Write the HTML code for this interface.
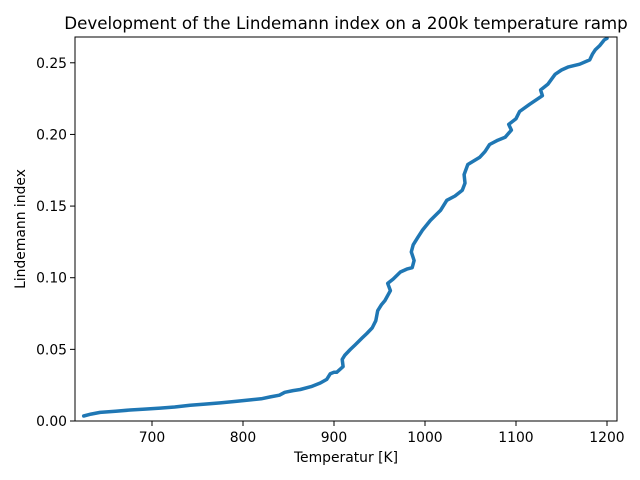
<!DOCTYPE html>
<html><head><meta charset="utf-8"><style>
body{margin:0;background:#fff;}
svg{display:block;font-family:"DejaVu Sans","Liberation Sans",sans-serif;}
</style></head><body>
<svg id="chart" width="640" height="480"></svg>
<script>
const temps=[625,633,643,660,676,692,709,725,742,758,775,792,808,820,830,840,846,855,863,875,885,892,896,900,903,910,909,912,918,923,931,936,942,946,948,952,956,962,959,965,973,980,986,988,985,987,992,997,1006,1017,1024,1033,1041,1044,1043,1047,1060,1066,1071,1080,1088,1095,1092,1100,1104,1115,1129,1127,1135,1143,1150,1157,1170,1181,1184,1187,1192,1197,1200];
const lindemann=[0.0035,0.0048,0.006,0.0068,0.0077,0.0083,0.009,0.0098,0.011,0.0118,0.0126,0.0137,0.0147,0.0155,0.0168,0.018,0.020,0.0212,0.022,0.024,0.0265,0.029,0.033,0.034,0.034,0.038,0.043,0.046,0.050,0.053,0.058,0.061,0.065,0.070,0.077,0.081,0.084,0.091,0.096,0.099,0.104,0.106,0.107,0.112,0.118,0.123,0.128,0.133,0.140,0.147,0.154,0.157,0.161,0.166,0.172,0.179,0.184,0.188,0.193,0.196,0.198,0.203,0.207,0.211,0.216,0.221,0.227,0.231,0.235,0.242,0.245,0.247,0.249,0.252,0.256,0.259,0.262,0.266,0.267];
const xTicks=[700,800,900,1000,1100,1200];
const yTicks=[0,0.05,0.10,0.15,0.20,0.25];
const yTickLabels=["0.00","0.05","0.10","0.15","0.20","0.25"];

const L=75,R=617,T=37,B=421;
const xMin=615.4,xMax=1211,yMin=0,yMax=0.268;
const xs=v=>L+(v-xMin)/(xMax-xMin)*(R-L);
const ys=v=>B-(v-yMin)/(yMax-yMin)*(B-T);
const svg=document.getElementById('chart');
const NS='http://www.w3.org/2000/svg';
function mk(tag,attrs,parent){const e=document.createElementNS(NS,tag);for(const k in attrs)e.setAttribute(k,attrs[k]);(parent||svg).appendChild(e);return e;}

const title=mk('text',{x:346,y:29,'text-anchor':'middle','font-size':16.7,fill:'#000'});
title.textContent='Development of the Lindemann index on a 200k temperature ramp';



let d='';
temps.forEach((t,i)=>{d+=(i?'L':'M')+xs(t).toFixed(1)+','+ys(lindemann[i]).toFixed(1);});
const line=mk('path',{d:d,fill:'none',stroke:'#1f77b4','stroke-width':3.5,'stroke-linejoin':'round','stroke-linecap':'round'});



const frame=mk('rect',{x:L,y:T,width:R-L,height:B-T,fill:'none',stroke:'#000','stroke-width':1});



xTicks.forEach(v=>{
  const x=xs(v);
  const tk=mk('line',{x1:x,y1:B,x2:x,y2:B+5,stroke:'#000'});
  
  
  const lb=mk('text',{x:x,y:B+21,'text-anchor':'middle','font-size':13.9,fill:'#000'});
  lb.textContent=v;
  
  
});
yTicks.forEach((v,i)=>{
  const y=ys(v);
  const tk=mk('line',{x1:L-5,y1:y,x2:L,y2:y,stroke:'#000'});
  
  
  const lb=mk('text',{x:L-8,y:y+5,'text-anchor':'end','font-size':13.9,fill:'#000'});
  lb.textContent=yTickLabels[i];
  
  
});
const xt=mk('text',{x:346,y:462,'text-anchor':'middle','font-size':13.9,fill:'#000'});
xt.textContent='Temperatur [K]';


const yt=mk('text',{x:25,y:229,'text-anchor':'middle','font-size':13.9,fill:'#000',transform:'rotate(-90 25 229)'});
yt.textContent='Lindemann index';


</script>
</body></html>
